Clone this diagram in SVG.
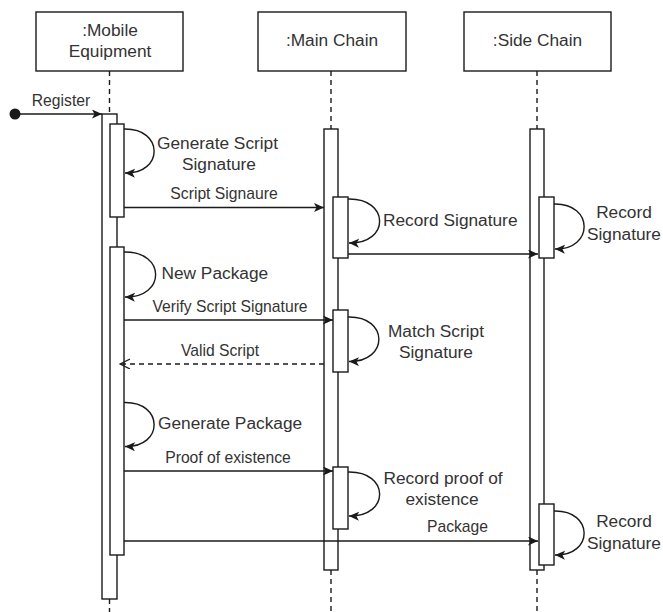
<svg xmlns="http://www.w3.org/2000/svg" width="663" height="612" viewBox="0 0 663 612">
<style>
.box{fill:#fff;stroke:#1a1a1a;stroke-width:1.4}
.life{stroke:#1a1a1a;stroke-width:1.4;stroke-dasharray:5 4;fill:none}
.bar{fill:#fff;stroke:#1a1a1a;stroke-width:1.4}
.msg{stroke:#1a1a1a;stroke-width:1.4;fill:none}
.ttl{font-family:"Liberation Sans",Arial,sans-serif;font-size:17.3px;fill:#333;text-anchor:middle}
.lbl{font-family:"Liberation Sans",Arial,sans-serif;font-size:15.7px;fill:#333;text-anchor:middle}
.note{font-family:"Liberation Sans",Arial,sans-serif;font-size:17.3px;fill:#333}
</style>
<defs>
<marker id="block" markerUnits="userSpaceOnUse" markerWidth="12" markerHeight="10" refX="10" refY="4.5" orient="auto">
<path d="M0,0 L10,4.5 L0,9 L2.5,4.5 z" fill="#1a1a1a"/>
</marker>
<marker id="open" markerUnits="userSpaceOnUse" markerWidth="12" markerHeight="12" refX="10" refY="5" orient="auto">
<path d="M0,0 L10,5 L0,10" fill="none" stroke="#1a1a1a" stroke-width="1.2"/>
</marker>
</defs>
<rect width="663" height="612" fill="#fff"/>
<g id="mobile-equipment">
<rect class="box" x="36" y="12" width="147" height="59"/>
<text class="ttl" x="110" y="36">:Mobile</text>
<text class="ttl" x="110" y="57">Equipment</text>
<line class="life" x1="109.5" y1="71" x2="109.5" y2="114"/>
<line class="life" x1="109.5" y1="599" x2="109.5" y2="612"/>
<rect class="bar" x="102" y="114" width="15" height="485"/>
<rect class="bar" x="110" y="124" width="14" height="93"/>
<rect class="bar" x="110" y="247" width="14" height="308"/>
</g>
<g id="main-chain">
<rect class="box" x="258" y="12" width="148" height="59"/>
<text class="ttl" x="332" y="46">:Main Chain</text>
<line class="life" x1="331" y1="71" x2="331" y2="129"/>
<line class="life" x1="331" y1="570" x2="331" y2="612"/>
<rect class="bar" x="324" y="129" width="14" height="441"/>
<rect class="bar" x="333" y="197" width="15" height="61"/>
<rect class="bar" x="333" y="310" width="15" height="62"/>
<rect class="bar" x="333" y="467" width="15" height="62"/>
</g>
<g id="side-chain">
<rect class="box" x="464" y="12" width="147" height="59"/>
<text class="ttl" x="537.5" y="46">:Side Chain</text>
<line class="life" x1="537" y1="71" x2="537" y2="129"/>
<line class="life" x1="537" y1="570" x2="537" y2="612"/>
<rect class="bar" x="530" y="129" width="14" height="441"/>
<rect class="bar" x="539" y="197" width="15" height="61"/>
<rect class="bar" x="539" y="504" width="15" height="61"/>
</g>
<g id="connectors">
<circle cx="15" cy="114" r="5.5" fill="#1a1a1a"/>
<line class="msg" x1="18" y1="114" x2="102" y2="114" marker-end="url(#block)"/>
<text class="lbl" x="61" y="106">Register</text>

<path class="msg" d="M124,129 C164,128 164,174 125,173" marker-end="url(#block)"/>
<text class="note" x="157" y="149">Generate Script</text>
<text class="note" x="182" y="169.5">Signature</text>

<line class="msg" x1="124" y1="207.5" x2="324" y2="207.5" marker-end="url(#block)"/>
<text class="lbl" x="224" y="199">Script Signaure</text>

<path class="msg" d="M348,199 C390,198 390,244 349,243" marker-end="url(#block)"/>
<text class="note" x="383" y="226">Record Signature</text>

<line class="msg" x1="348" y1="254" x2="538" y2="254" marker-end="url(#block)"/>

<path class="msg" d="M554,204 C594,203 594,250 555,249" marker-end="url(#block)"/>
<text class="note" x="624" y="218" text-anchor="middle">Record</text>
<text class="note" x="624" y="240" text-anchor="middle">Signature</text>

<path class="msg" d="M124,252 C166,251 166,298 125,297" marker-end="url(#block)"/>
<text class="note" x="161.5" y="279">New Package</text>

<line class="msg" x1="124" y1="320" x2="333" y2="320" marker-end="url(#block)"/>
<text class="lbl" x="230" y="311.5">Verify Script Signature</text>

<path class="msg" d="M348,317 C389,316 389,362 349,361.5" marker-end="url(#block)"/>
<text class="note" x="436" y="336.5" text-anchor="middle">Match Script</text>
<text class="note" x="436" y="358" text-anchor="middle">Signature</text>

<line class="msg" x1="324" y1="364" x2="120" y2="364" stroke-dasharray="5 4" marker-end="url(#open)"/>
<text class="lbl" x="220" y="356">Valid Script</text>

<path class="msg" d="M124,402.5 C164,401.5 164,447.5 125,446.5" marker-end="url(#block)"/>
<text class="note" x="158" y="429">Generate Package</text>

<line class="msg" x1="124" y1="471" x2="333" y2="471" marker-end="url(#block)"/>
<text class="lbl" x="228" y="462.5">Proof of existence</text>

<path class="msg" d="M348,472 C390,471 390,517 349,516" marker-end="url(#block)"/>
<text class="note" x="443" y="484" text-anchor="middle">Record proof of</text>
<text class="note" x="442" y="505" text-anchor="middle">existence</text>

<line class="msg" x1="124" y1="541" x2="538" y2="541" marker-end="url(#block)"/>
<text class="lbl" x="457.5" y="531.5">Package</text>

<path class="msg" d="M554,511 C594,510 594,556 555,555" marker-end="url(#block)"/>
<text class="note" x="624" y="527" text-anchor="middle">Record</text>
<text class="note" x="624" y="549" text-anchor="middle">Signature</text>
</g>
</svg>
